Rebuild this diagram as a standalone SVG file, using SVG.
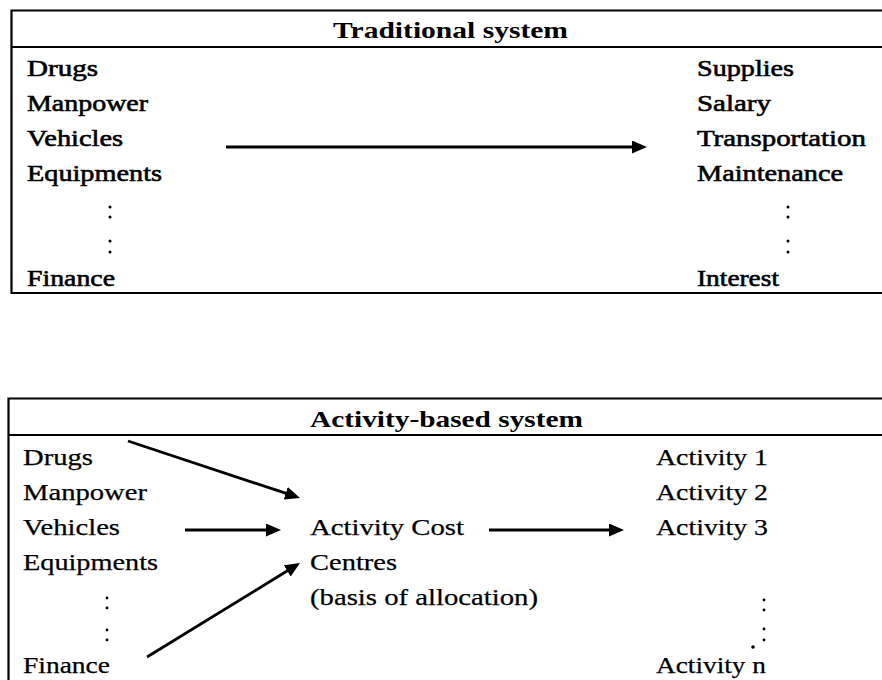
<svg xmlns="http://www.w3.org/2000/svg" width="882" height="680" viewBox="0 0 882 680">
  <defs>
    <style>
      .frame { fill: none; stroke: #000; stroke-width: 2.2; }
      .txt { font-family: "Liberation Serif", "Times New Roman", serif; font-size: 24px; fill: #000; }
      .heavy { stroke: #000; stroke-width: 0.6; }
      .light { stroke: #000; stroke-width: 0.25; }
      .head { font-family: "Liberation Serif", "Times New Roman", serif; font-size: 22.5px; font-weight: bold; fill: #000; }
      .dot { fill: #000; stroke: none; }
      .conn { fill: none; stroke: #000; stroke-width: 2.8; marker-end: url(#arrow); }
    </style>
    <marker id="arrow" markerUnits="userSpaceOnUse" markerWidth="16" markerHeight="14" refX="3" refY="6.5" orient="auto">
      <path d="M0,0 L15,6.5 L0,13 z" fill="#000"/>
    </marker>
  </defs>
  <rect width="882" height="680" fill="#fff"/>

  <!-- Upper table: traditional costing -->
  <g id="traditional-box">
    <path class="frame" d="M882,10.5 H11.5 V293 H882 M11.5,47 H882"/>
    <text class="head" x="333" y="38" textLength="235" lengthAdjust="spacingAndGlyphs">Traditional system</text>
  </g>
  <g id="traditional-resources" class="txt heavy">
    <text x="27" y="76" textLength="71" lengthAdjust="spacingAndGlyphs">Drugs</text>
    <text x="27" y="111" textLength="121" lengthAdjust="spacingAndGlyphs">Manpower</text>
    <text x="27" y="146" textLength="96" lengthAdjust="spacingAndGlyphs">Vehicles</text>
    <text x="27" y="181" textLength="135" lengthAdjust="spacingAndGlyphs">Equipments</text>
    <text x="27" y="286" textLength="88" lengthAdjust="spacingAndGlyphs">Finance</text>
    <g class="dot">
      <circle cx="110" cy="207" r="1.5"/><circle cx="110" cy="217" r="1.5"/>
      <circle cx="110" cy="241" r="1.5"/><circle cx="110" cy="252" r="1.5"/>
    </g>
  </g>
  <g id="traditional-costs" class="txt heavy">
    <text x="697" y="76" textLength="97" lengthAdjust="spacingAndGlyphs">Supplies</text>
    <text x="697" y="111" textLength="74" lengthAdjust="spacingAndGlyphs">Salary</text>
    <text x="697" y="146" textLength="169" lengthAdjust="spacingAndGlyphs">Transportation</text>
    <text x="697" y="181" textLength="146" lengthAdjust="spacingAndGlyphs">Maintenance</text>
    <text x="697" y="286" textLength="82" lengthAdjust="spacingAndGlyphs">Interest</text>
    <g class="dot">
      <circle cx="788" cy="207" r="1.5"/><circle cx="788" cy="217" r="1.5"/>
      <circle cx="788" cy="241" r="1.5"/><circle cx="788" cy="252" r="1.5"/>
    </g>
  </g>

  <!-- Lower table: activity-based costing -->
  <g id="abc-box">
    <path class="frame" d="M882,398.5 H8.5 V680 M8.5,435 H882"/>
    <text class="head" x="310" y="427" textLength="273" lengthAdjust="spacingAndGlyphs">Activity-based system</text>
  </g>
  <g id="abc-resources" class="txt light">
    <text x="23" y="465" textLength="70" lengthAdjust="spacingAndGlyphs">Drugs</text>
    <text x="23" y="500" textLength="124" lengthAdjust="spacingAndGlyphs">Manpower</text>
    <text x="23" y="535" textLength="97" lengthAdjust="spacingAndGlyphs">Vehicles</text>
    <text x="23" y="570" textLength="135" lengthAdjust="spacingAndGlyphs">Equipments</text>
    <text x="23" y="673" textLength="87" lengthAdjust="spacingAndGlyphs">Finance</text>
    <g class="dot">
      <circle cx="107" cy="598" r="1.4"/><circle cx="107" cy="608" r="1.4"/>
      <circle cx="107" cy="630" r="1.4"/><circle cx="107" cy="640" r="1.4"/>
    </g>
  </g>
  <g id="abc-centres" class="txt light">
    <text x="310" y="535" textLength="154" lengthAdjust="spacingAndGlyphs">Activity Cost</text>
    <text x="310" y="570" textLength="87" lengthAdjust="spacingAndGlyphs">Centres</text>
    <text x="310" y="605" textLength="228" lengthAdjust="spacingAndGlyphs">(basis of allocation)</text>
  </g>
  <g id="abc-activities" class="txt light">
    <text x="656" y="465" textLength="112" lengthAdjust="spacingAndGlyphs">Activity 1</text>
    <text x="656" y="500" textLength="112" lengthAdjust="spacingAndGlyphs">Activity 2</text>
    <text x="656" y="535" textLength="112" lengthAdjust="spacingAndGlyphs">Activity 3</text>
    <text x="656" y="673" textLength="110" lengthAdjust="spacingAndGlyphs">Activity n</text>
    <g class="dot">
      <circle cx="764" cy="600" r="1.4"/><circle cx="764" cy="610" r="1.4"/>
      <circle cx="764" cy="629" r="1.4"/><circle cx="764" cy="640" r="1.4"/>
      <circle cx="753" cy="647" r="1.8"/>
    </g>
  </g>

  <!-- Connectors -->
  <g id="connectors">
    <line class="conn" x1="226" y1="147" x2="635" y2="147"/>
    <line class="conn" x1="128" y1="441" x2="288.6" y2="494.2"/>
    <line class="conn" x1="185" y1="530" x2="269" y2="530"/>
    <line class="conn" x1="147" y1="657" x2="289.8" y2="569.3"/>
    <line class="conn" x1="489" y1="530" x2="612" y2="530"/>
  </g>
</svg>
